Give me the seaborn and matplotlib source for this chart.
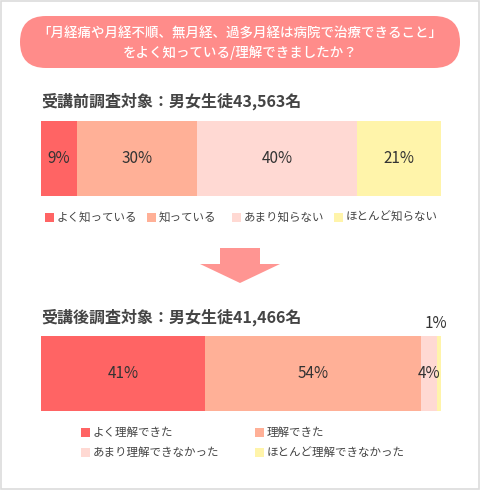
import numpy as np
import pandas as pd
import matplotlib
matplotlib.use("Agg")
import matplotlib.pyplot as plt
from matplotlib.patches import FancyBboxPatch, Rectangle, Polygon
import seaborn as sns

# data
question_lines = ["「月経痛や月経不順、無月経、過多月経は病院で治療できること」",
                  "をよく知っている/理解できましたか？"]

before_title = "受講前調査対象：男女生徒43,563名"
before_labels = ["よく知っている", "知っている", "あまり知らない", "ほとんど知らない"]
before_values = [9, 30, 40, 21]

after_title = "受講後調査対象：男女生徒41,466名"
after_labels = ["よく理解できた", "理解できた", "あまり理解できなかった", "ほとんど理解できなかった"]
after_values = [41, 54, 4, 1]

colors = ["#ff6464", "#ffb097", "#ffd9d3", "#fff4aa"]

sns.set_theme(style="white")
plt.rcParams['font.family'] = ['Noto Sans CJK JP', 'DejaVu Sans']

W, H = 480, 490
fig = plt.figure(figsize=(W / 100, H / 100), dpi=100)
fig.patch.set_facecolor("white")

# overlay in pixel coords
bg = fig.add_axes([0, 0, 1, 1])
bg.set_xlim(0, W)
bg.set_ylim(H, 0)
bg.axis("off")

bg.add_patch(Rectangle((1, 1), W - 2.5, H - 2.5, fill=False, edgecolor="#dcdcdc", lw=1.2))
bg.add_patch(FancyBboxPatch((20, 16), 440, 52,
                            boxstyle="round,pad=0,rounding_size=26",
                            facecolor="#ff8c8a", edgecolor="none"))
bg.text(240, 33, question_lines[0], ha="center", va="center", color="white",
        fontsize=9.7, fontweight="medium")
bg.text(240, 53, question_lines[1], ha="center", va="center", color="white",
        fontsize=9.7, fontweight="medium")

# arrow
bg.add_patch(Polygon([(220, 248), (260, 248), (260, 264), (280, 264),
                      (240, 283), (200, 264), (220, 264)],
                     closed=True, facecolor="#ff9592", edgecolor="none"))

bg.text(41, 101, before_title, ha="left", va="center", color="#444444",
        fontsize=11.5, fontweight="bold")
bg.text(41, 317, after_title, ha="left", va="center", color="#444444",
        fontsize=11.5, fontweight="bold")


def stacked_bar(rect, name, values):
    ax = fig.add_axes(rect)
    cum = np.cumsum(values)
    # draw longest first so shorter ones sit on top
    for i in range(len(values) - 1, -1, -1):
        df = pd.DataFrame({"row": [name], "value": [cum[i]]})
        sns.barplot(data=df, x="value", y="row", orient="h", color=colors[i],
                    width=1.0, saturation=1, ax=ax, linewidth=0)
    ax.set_xlim(0, 100)
    ax.set_ylim(0.5, -0.5)
    ax.axis("off")
    return ax, cum


def legend_items(items, color_list, fs=8.3):
    for (x, y), lab, c in zip(items, color_list[0], color_list[1]):
        bg.add_patch(Rectangle((x, y - 4.5), 9, 9, facecolor=c, edgecolor="none"))
        bg.text(x + 12, y, lab, ha="left", va="center", color="#444444", fontsize=fs)


# before bar
ax1, cum1 = stacked_bar([41 / W, 1 - 196 / H, 400 / W, 75 / H], "before", before_values)
for v, c in zip(before_values, cum1):
    ax1.text(c - v / 2, 0, f"{v}%", ha="center", va="center", color="#333333", fontsize=11)

legend_items([(45, 217), (147, 217), (232, 217), (334, 217)],
             (before_labels, colors))

# after bar
ax2, cum2 = stacked_bar([41 / W, 1 - 411 / H, 400 / W, 75 / H], "after", after_values)
for i, (v, c) in enumerate(zip(after_values, cum2)):
    if i < 3:
        ax2.text(c - v / 2, 0, f"{v}%", ha="center", va="center", color="#333333", fontsize=11)
    else:
        ax2.text(c - 1.2, -0.66, f"{v}%", ha="center", va="center", color="#333333",
                 fontsize=11, clip_on=False)

legend_items([(81, 432), (255, 432), (81, 452), (255, 452)],
             (after_labels, colors))

fig.savefig("out.png", dpi=100, facecolor="white")
